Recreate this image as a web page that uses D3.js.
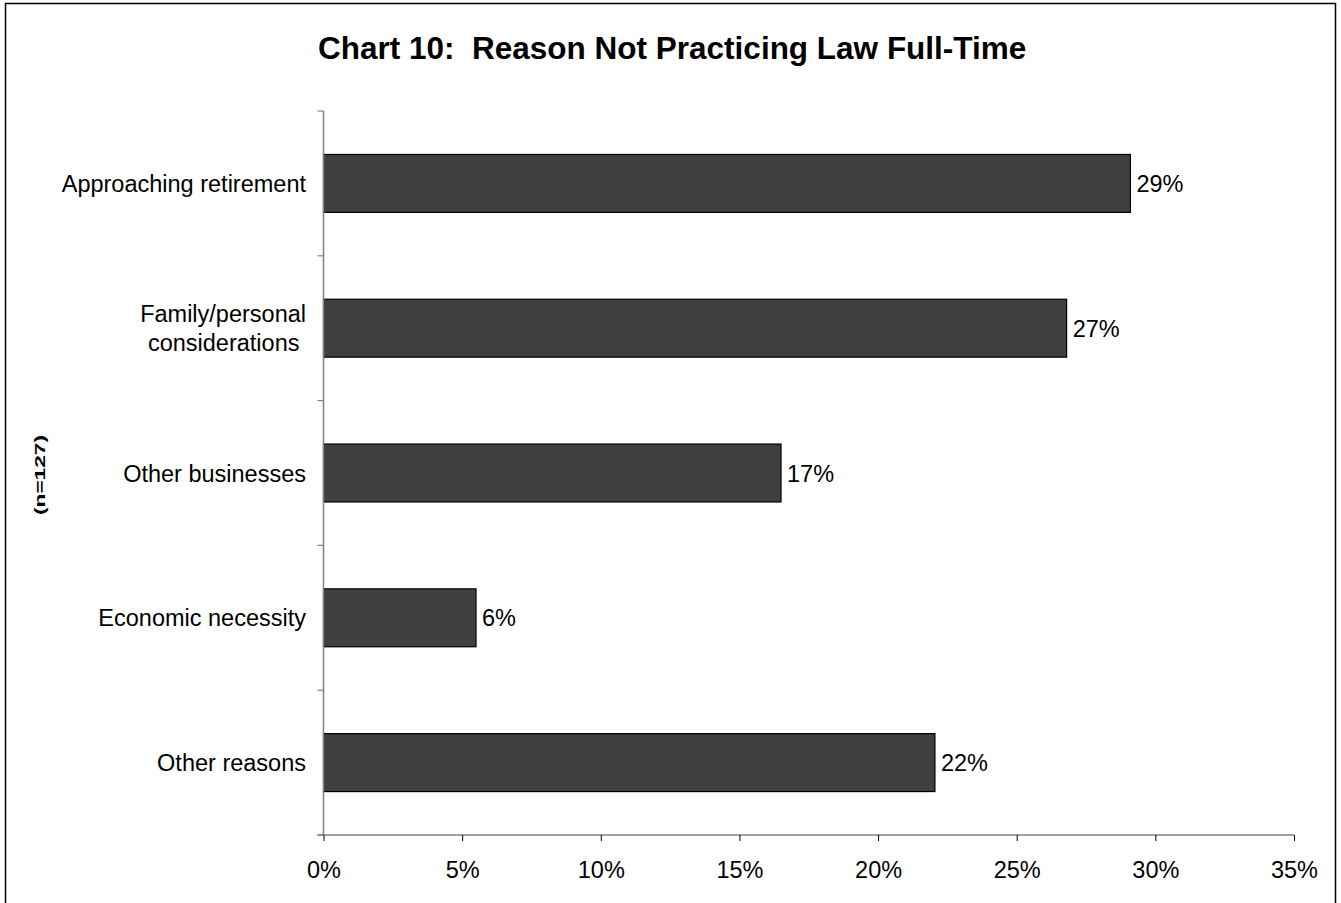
<!DOCTYPE html>
<html><head><meta charset="utf-8">
<script src="https://cdn.jsdelivr.net/npm/d3@7"></script>
<style>body{margin:0;background:#fff}svg{display:block}text{font-family:"Liberation Sans",Arial,sans-serif;white-space:pre}</style>
</head><body>
<script>
const categories = ["Approaching retirement","Family/personal considerations","Other businesses","Economic necessity","Other reasons"];
const categoryLines = [["Approaching retirement"],["Family/personal","considerations "],["Other businesses"],["Economic necessity"],["Other reasons"]];
const values = [29.1, 26.8, 16.5, 5.5, 22.05];
const valueLabels = ["29%","27%","17%","6%","22%"];
const xTicks = [0,5,10,15,20,25,30,35];
const title = "Chart 10:  Reason Not Practicing Law Full-Time";
const sideNote = "(n=127)";

const W=1341,H=903,FS=23.5;
const svg=d3.select("body").append("svg").attr("width",W).attr("height",H);
svg.append("rect").attr("x",5.5).attr("y",3.5).attr("width",1330).attr("height",H+10).attr("fill","#fff").attr("stroke","#000").attr("stroke-width",1.5);

const L=323.5,R=1294,T=111,B=835;
const x=d3.scaleLinear().domain([0,35]).range([L,R]);
const y=d3.scaleBand().domain(categories).range([T,B]).paddingInner(0.6).paddingOuter(0.3);

svg.append("text").attr("x",318).attr("y",59).attr("font-size",31.5).attr("font-weight","bold").text(title);
svg.append("text").attr("transform","translate(45,475) rotate(-90)").attr("text-anchor","middle")
 .attr("font-size",14.5).attr("font-weight","bold").attr("textLength",80).attr("lengthAdjust","spacingAndGlyphs").text(sideNote);

// bars
svg.selectAll("rect.bar").data(categories).enter().append("rect").attr("class","bar")
 .attr("x",x(0)).attr("y",d=>y(d)).attr("width",(d,i)=>x(values[i])-x(0)).attr("height",y.bandwidth())
 .attr("fill","#404040").attr("stroke","#000").attr("stroke-width",1.2);

svg.selectAll("text.vl").data(categories).enter().append("text").attr("class","vl")
 .attr("x",(d,i)=>x(values[i])+6).attr("y",d=>y(d)+y.bandwidth()/2+8.5).attr("font-size",FS).text((d,i)=>valueLabels[i]);

// x axis
const gx=svg.append("g").attr("transform",`translate(0,${B})`)
 .call(d3.axisBottom(x).tickValues(xTicks).tickFormat(d=>d+"%").tickSize(6).tickSizeOuter(0));
gx.select(".domain").attr("stroke","#808080").attr("stroke-width",1.5).attr("d",`M${L-6},0H${R}`);
gx.selectAll(".tick line").attr("stroke","#000");
gx.selectAll(".tick text").attr("font-size",FS).attr("fill","#000").attr("y",43).attr("dy",0).style("font-family","Liberation Sans, Arial, sans-serif");

// y axis line and ticks at band boundaries
const bounds=[T].concat(categories.map((d,i)=>T+(i+1)*(B-T)/categories.length));
svg.append("line").attr("x1",L).attr("x2",L).attr("y1",T).attr("y2",B).attr("stroke","#808080").attr("stroke-width",1.5);
svg.selectAll("line.yt").data(bounds).enter().append("line").attr("class","yt")
 .attr("x1",L-6).attr("x2",L).attr("y1",d=>d).attr("y2",d=>d).attr("stroke","#808080").attr("stroke-width",1.2);

// category labels
categories.forEach((c,i)=>{
  const lines=categoryLines[i];
  const cy=y(c)+y.bandwidth()/2;
  const t=svg.append("text").attr("text-anchor","end").attr("font-size",FS);
  lines.forEach((ln,j)=>{
    t.append("tspan").attr("x",306).attr("y",cy+8.5+(j-(lines.length-1)/2)*29).text(ln);
  });
});
</script>
</body></html>
